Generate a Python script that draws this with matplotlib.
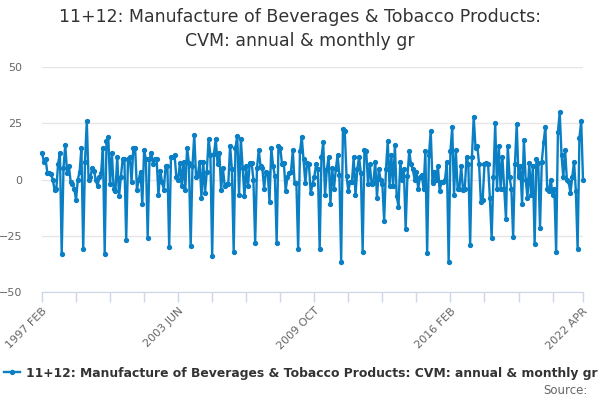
import matplotlib
matplotlib.use("Agg")
import matplotlib.pyplot as plt

# Serie mensual, FEB 1997 .. APR 2022
primer_anio = 1997
primer_mes = 2
meses = ["JAN", "FEB", "MAR", "APR", "MAY", "JUN",
         "JUL", "AUG", "SEP", "OCT", "NOV", "DEC"]

valores = [
    12, 8, 9, 3, 3, 2.5, 0, -4.5, -4, 7, 12,                       # 1997
    -33, 5, 15.5, 3, 6, -1, -2, -4, -9, 0, 3.5, 14,                # 1998
    -31, 8, 26, 0, 1, 5, 4, 0, -3, 1, 3, 14,                       # 1999
    -33, 17, 19, -2, 12, -4, -5, 10, -7.5, 1, 9, 9,                # 2000
    -27, 9, 10, -1, 14, 14, -4.5, 0, 3.5, -11, 13, 9,              # 2001
    -26, 9, 12, 7, 9, 9, -7, 4, -1, -4.5, 6, 6,                    # 2002
    -30, 10, 10, 11, 1, 0, 7.5, -3, 8, -4.5, 14, 7.5,              # 2003
    -29.5, 6, 20, 1, 2, 8, -8, 8, -6, 3.5, 18, 11,                 # 2004
    -34, 11.5, 18, 7, 12, -4.5, 5, -3, -2, -2, 15, 4.5,            # 2005
    -32, 14, 19.5, -7, 18, 5, -7.5, 6, -3, 7.5, 7.5, 0,            # 2006
    -28, 5, 13, 6, 5, -4, 3.5, 3, -10, 14, 6, 1.5,                 # 2007
    -28, 15, 14, 6.7, 7.5, -5, 1, 3, 3.5, 13, -1.5, -1.5,          # 2008
    -31, 12.5, 19, 9, -1.5, 7.5, 6.7, -6, -2, 1, 6.7, 4.5,         # 2009
    -31, 10, 16.5, -7, 4.5, 10, -11, 5, -4, 4.5, 11, 2,            # 2010
    -36.5, 22.5, 21.5, 1.5, -5, -1, -1, 10, -7, 4.5, 10, 3,        # 2011
    -32, 13, 12.5, -2, 6.7, -2, -1.5, 8, -8, 4.5, 0, -2,           # 2012
    -18.5, 4.5, 17, -3, 11, -3, 15.5, -7.5, -12, 8, 0, 4.5,        # 2013
    -22, 1.5, 12.5, 6.7, 4.5, 0, 3.5, -4, 1, 2, -4, 12.5,          # 2014
    -32.5, 11, 21.5, -1.5, 3.5, 0, 6, -5, -1, -1, 0, 8,            # 2015
    -36.5, 12.5, 23.5, -7, 13, -4, -4, 6, -4.5, -4, 10, 6.7,       # 2016
    -29, 10, 28, 14, 15, 6.7, -10, -9, 6.7, 7.5, 7, -8,            # 2017
    -26, 1, 25, -4, 15, -4, 10, -4, -17.5, 15, 1, -4,              # 2018
    -25.5, 6.7, 24.5, 1, 6, -11, 17.5, 0, -8, 7.5, -7, 6,          # 2019
    -28.5, 9, 7.5, -21.5, 8, 16.5, 23.5, -4, -5, 0, -7, -4,        # 2020
    -32, 21, 30, 11, 1, 13, 0, -1, -6, 1, 8, -5,                   # 2021
    -31, 18.5, 26, 0,                                              # 2022
]

titulo = "11+12: Manufacture of Beverages & Tobacco Products:\nCVM: annual & monthly gr"
nombre_serie = "11+12: Manufacture of Beverages & Tobacco Products: CVM: annual & monthly gr"
ticks_y = [-50, -25, 0, 25, 50]
paso_ticks = 19


def etiqueta_mes(i):
    total = (primer_mes - 1) + i
    return f"{primer_anio + total // 12} {meses[total % 12]}"


x = list(range(len(valores)))
ultimo = len(valores) - 1

fig = plt.figure(figsize=(6, 4), dpi=100)
ax = fig.add_axes([42 / 600, 108 / 400, 541 / 600, 225 / 400])

ax.plot(x, valores, color="#0a7fc4", linewidth=1.7, marker="o",
        markersize=2.8, label=nombre_serie, clip_on=False, zorder=3)

ax.set_xlim(0, ultimo)
ax.set_ylim(-50, 50)
ax.set_yticks(ticks_y)
ax.yaxis.grid(True, color="#e6e6e6", linewidth=1)
ax.set_axisbelow(True)

posiciones = list(range(0, ultimo, paso_ticks)) + [ultimo]
etiquetas = []
for k, p in enumerate(posiciones):
    if k % 4 == 0 or p == ultimo:
        etiquetas.append(etiqueta_mes(p))
    else:
        etiquetas.append("")
ax.set_xticks(posiciones)
ax.set_xticklabels(etiquetas, rotation=45, ha="right", rotation_mode="anchor")

for s in ["top", "right", "left"]:
    ax.spines[s].set_visible(False)
ax.spines["bottom"].set_color("#ccd6eb")
ax.tick_params(axis="x", colors="#ccd6eb", length=7, width=1,
               labelcolor="#666666", labelsize=8, pad=3)
ax.tick_params(axis="y", length=0, labelcolor="#666666", labelsize=8, pad=14)

fig.text(0.5, 1 - 29 / 400, titulo, ha="center", va="center",
         fontsize=12.5, color="#333333", linespacing=1.4)

fig.legend(loc="center left", bbox_to_anchor=(4 / 600, 1 - 373 / 400),
           frameon=False, handlelength=1.3, handletextpad=0.45,
           borderaxespad=0, borderpad=0,
           prop={"size": 8.9, "weight": "bold"}, labelcolor="#333333")

fig.text(588 / 600, 1 - 390 / 400, "Source:", ha="right", va="center",
         fontsize=8.5, color="#666666")

fig.savefig("out.png", dpi=100)
